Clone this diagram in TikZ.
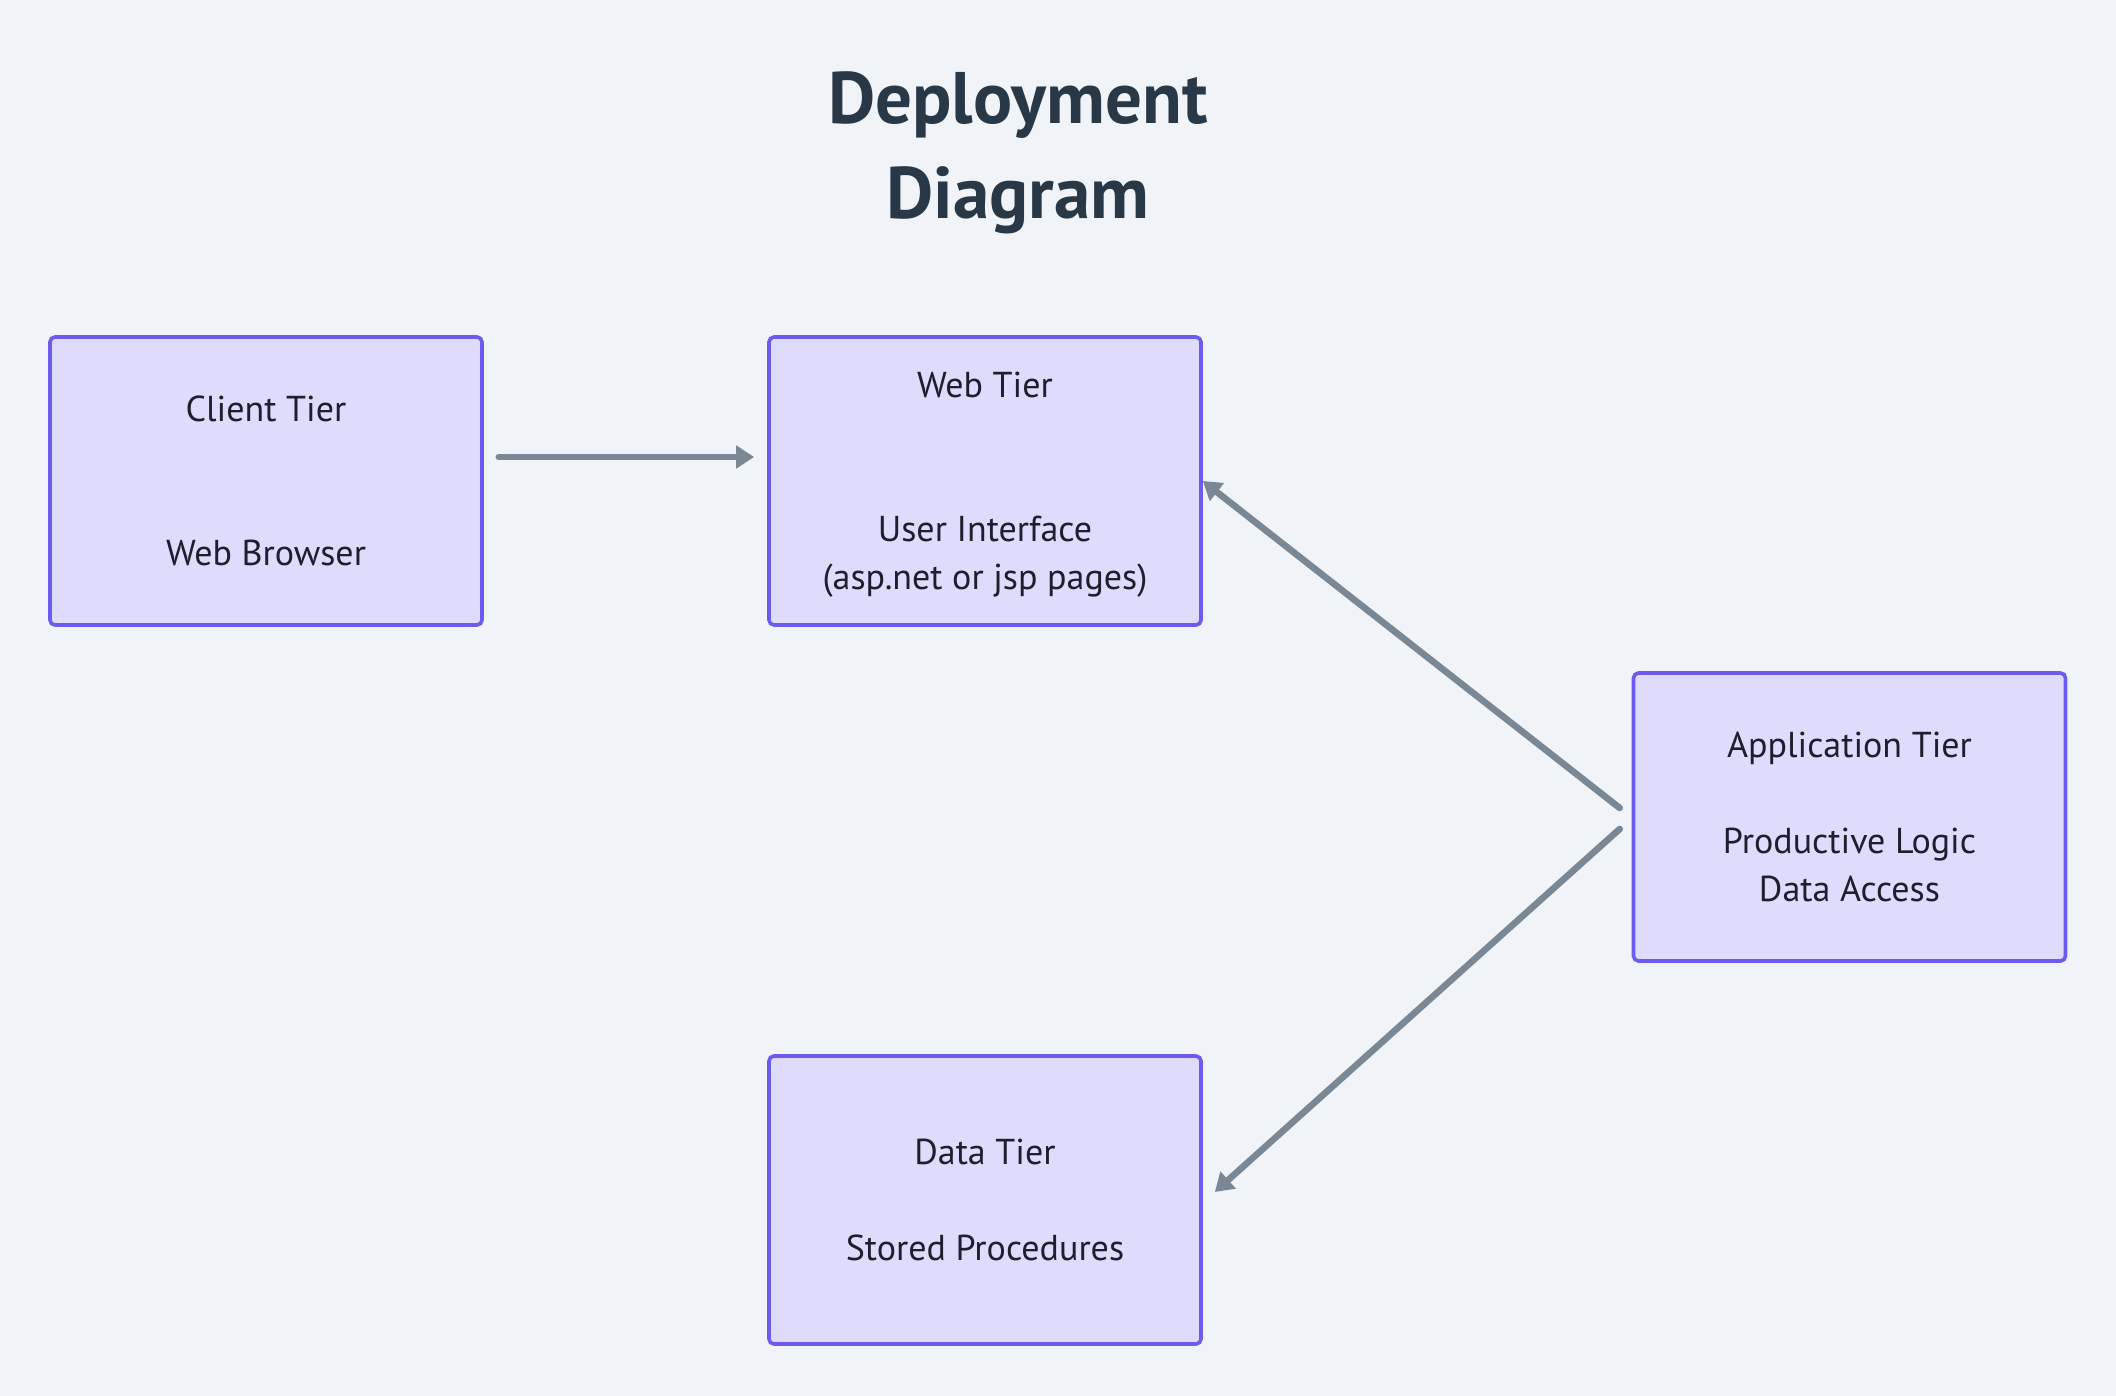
\documentclass[tikz,border=0pt]{standalone}
\usepackage{fontspec}
\setmainfont{PT Sans}
\usetikzlibrary{arrows.meta}
\definecolor{bg}{HTML}{F0F4F8}
\definecolor{boxfill}{HTML}{DFDBFC}
\definecolor{boxline}{HTML}{6B5BF0}
\definecolor{arrowc}{HTML}{7A8896}
\definecolor{txt}{HTML}{1E1E2C}
\definecolor{titlec}{HTML}{283846}
\begin{document}
\begin{tikzpicture}[x=0.5pt,y=-0.5pt,
  tier/.style={draw=boxline, fill=boxfill, line width=1.8pt, rounded corners=2.5pt,
    minimum width=216pt, minimum height=144pt, inner sep=0pt, align=center,
    font=\fontsize{18}{24}\selectfont, text=txt},
  conn/.style={draw=arrowc, line width=3.3pt, line cap=round,
    -{Triangle[length=9pt,width=11pt]}},
  titlestyle/.style={align=center, text=titlec,
    font=\fontsize{36.5}{47.5}\selectfont\bfseries}]
\fill[bg] (0,0) rectangle (2116,1396);
\useasboundingbox (0,0) rectangle (2116,1396);
\node[titlestyle] (title) at (1018,153) {Deployment\\Diagram};
\node[tier] (client) at (266,481) {Client Tier\\~\\~\\Web Browser};
\node[tier, text depth=0pt] (web) at (985,481) {Web Tier\\~\\~\\User Interface\\(asp.net or jsp pages)};
\node[tier] (app) at (1849.5,817) {Application Tier\\~\\Productive Logic\\Data Access};
\node[tier] (data) at (985,1200) {Data Tier\\~\\Stored Procedures};
\draw[conn] ([shift={(15,-24)}]client.east) -- ([shift={(-13,-24)}]web.west);
\draw[conn] ([shift={(-12,-9)}]app.west) -- (web.east);
\draw[conn] ([shift={(-12,12)}]app.west) -- ([shift={(12,-8)}]data.east);
\end{tikzpicture}
\end{document}
